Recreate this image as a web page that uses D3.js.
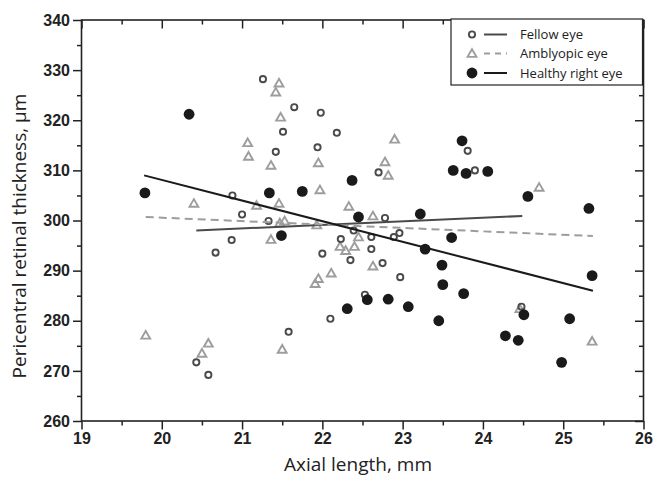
<!DOCTYPE html>
<html>
<head>
<meta charset="utf-8">
<script src="https://cdn.jsdelivr.net/npm/d3@7"></script>
<style>
  body { margin: 0; background: #fff; }
  .title { font-family: "Open Sans", "Noto Sans", sans-serif; font-size: 19px; fill: #222; }
  .leg { font-family: "Open Sans", "Noto Sans", sans-serif; font-size: 13px; fill: #222; }
</style>
</head>
<body>
<script>
// axial length (mm) / pericentral thickness (um)
const fellowX = [21.26, 21.65, 21.98, 21.51, 22.18, 21.42, 21.94, 20.88, 21.00, 21.33, 20.87, 20.67, 22.00, 22.23, 22.39, 22.35,
  22.10, 21.58, 20.43, 20.58, 22.78, 22.61, 22.61, 22.75, 22.97, 22.89, 22.96, 22.53, 23.81, 22.70, 23.90, 24.48];
const fellowY = [328.2, 322.6, 321.5, 317.7, 317.5, 313.7, 314.6, 305.0, 301.2, 299.9, 296.1, 293.6, 293.4, 296.3, 298.0, 292.1,
  280.4, 277.8, 271.7, 269.2, 300.5, 296.7, 294.3, 291.5, 288.7, 296.7, 297.5, 285.2, 313.9, 309.6, 310.0, 282.8];

const amblyX = [21.46, 21.42, 21.48, 21.07, 21.08, 21.36, 21.95, 21.97, 20.40, 21.18, 21.46, 22.33, 21.53, 21.47, 21.36, 21.93,
  22.22, 22.29, 22.40, 22.11, 21.95, 21.91, 21.50, 19.80, 20.58, 20.50, 22.63, 22.45, 22.63, 22.90, 22.78, 22.82, 24.46, 24.70, 25.36];
const amblyY = [327.4, 325.6, 320.6, 315.5, 312.8, 311.0, 311.5, 306.1, 303.4, 303.0, 303.4, 302.8, 299.9, 299.5, 296.2, 299.1,
  294.8, 294.0, 294.8, 289.5, 288.4, 287.4, 274.3, 277.1, 275.5, 273.5, 300.9, 296.7, 290.9, 316.2, 311.7, 309.0, 282.4, 306.6, 275.9];

const healthyX = [19.79, 20.34, 21.34, 21.75, 22.37, 22.45, 21.49, 23.22, 23.28, 22.31, 22.56, 22.82, 23.07, 23.45, 23.49, 23.50,
  23.76, 23.61, 23.74, 23.63, 23.79, 24.06, 24.56, 25.32, 25.36, 24.51, 24.28, 24.44, 25.08, 24.98];
const healthyY = [305.5, 321.2, 305.5, 305.8, 308.0, 300.7, 297.0, 301.3, 294.3, 282.4, 284.2, 284.3, 282.8, 280.0, 291.1, 287.2,
  285.4, 296.6, 315.9, 310.0, 309.4, 309.8, 304.8, 302.4, 289.0, 281.2, 277.0, 276.1, 280.4, 271.7];

// fitted lines, endpoints [x1, y1, x2, y2]
const fellowFit = [20.43, 298.0, 24.49, 300.9];
const amblyFit = [19.80, 300.7, 25.37, 296.9];
const healthyFit = [19.78, 309.0, 25.37, 286.0];

const xTicks = [19, 20, 21, 22, 23, 24, 25, 26];
const yTicks = [260, 270, 280, 290, 300, 310, 320, 330, 340];

const W = 654, H = 477;
const mLeft = 81.5, mRight = 643.5, mTop = 20, mBottom = 421;

const svg = d3.select("body").append("svg").attr("width", W).attr("height", H);

const x = d3.scaleLinear().domain([19, 26]).range([mLeft, mRight]);
const y = d3.scaleLinear().domain([260, 340]).range([mBottom, mTop]);

const xMinor = d3.range(19.5, 26, 1);
const yMinor = d3.range(265, 340, 10);

function axis(gen, tr, major, minor, labels) {
  const g = svg.append("g").attr("transform", tr);
  g.call(gen(major).tickSize(8.5).tickPadding(3).tickFormat(labels ? d3.format("d") : ""));
  g.append("g").call(gen(minor).tickSize(4.5).tickFormat(""));
  g.selectAll("line").attr("stroke", "#222").attr("stroke-width", 1.5);
  g.selectAll(".domain").remove();
  g.selectAll("text").attr("fill", "#222")
    .style("font-family", "'Liberation Sans', Arial, sans-serif")
    .style("font-weight", "bold").style("font-size", "16px");
  return g;
}
// bottom/left ticks point out, top/right ticks point in
axis(t => d3.axisBottom(x).tickValues(t), `translate(0,${mBottom})`, xTicks, xMinor, true);
axis(t => d3.axisBottom(x).tickValues(t), `translate(0,${mTop})`, xTicks, xMinor, false);
axis(t => d3.axisLeft(y).tickValues(t), `translate(${mLeft},0)`, yTicks, yMinor, true);
axis(t => d3.axisLeft(y).tickValues(t), `translate(${mRight},0)`, yTicks, yMinor, false);

svg.append("rect").attr("x", mLeft).attr("y", mTop).attr("width", mRight - mLeft).attr("height", mBottom - mTop)
  .attr("fill", "none").attr("stroke", "#222").attr("stroke-width", 1.6);

function fit(d, color, dash) {
  svg.append("line")
    .attr("x1", x(d[0])).attr("y1", y(d[1])).attr("x2", x(d[2])).attr("y2", y(d[3]))
    .attr("stroke", color).attr("stroke-width", 2).attr("stroke-dasharray", dash || null);
}

const triangle = d3.symbol().type(d3.symbolTriangle).size(34);

svg.append("g").selectAll("path").data(amblyX.map((v, i) => [v, amblyY[i]])).join("path")
  .attr("d", triangle).attr("transform", d => `translate(${x(d[0])},${y(d[1]) + 0.8})`)
  .attr("fill", "none").attr("stroke", "#9d9d9d").attr("stroke-width", 1.9);

svg.append("g").selectAll("circle").data(fellowX.map((v, i) => [v, fellowY[i]])).join("circle")
  .attr("cx", d => x(d[0])).attr("cy", d => y(d[1])).attr("r", 3.1)
  .attr("fill", "none").attr("stroke", "#4a4a4a").attr("stroke-width", 1.9);

fit(fellowFit, "#4a4a4a");
fit(amblyFit, "#9d9d9d", "8,5");
fit(healthyFit, "#1a1a1a");

svg.append("g").selectAll("circle").data(healthyX.map((v, i) => [v, healthyY[i]])).join("circle")
  .attr("cx", d => x(d[0])).attr("cy", d => y(d[1])).attr("r", 5.4)
  .attr("fill", "#1a1a1a");

// axis titles
svg.append("text").attr("class", "title").attr("x", 358).attr("y", 471).attr("text-anchor", "middle")
  .text("Axial length, mm");
svg.append("text").attr("class", "title").attr("transform", "translate(26,236) rotate(-90)")
  .attr("text-anchor", "middle").text("Pericentral retinal thickness, µm");

// legend
const lg = svg.append("g");
lg.append("rect").attr("x", 451).attr("y", 19).attr("width", 191.5).attr("height", 66)
  .attr("fill", "#fff").attr("stroke", "#222").attr("stroke-width", 1.2);
const legNames = ["Fellow eye", "Amblyopic eye", "Healthy right eye"];
const legY = [34.5, 53.5, 73];
legNames.forEach((name, i) => {
  const cy = legY[i];
  if (i === 0) {
    lg.append("circle").attr("cx", 472).attr("cy", cy).attr("r", 3.1)
      .attr("fill", "none").attr("stroke", "#4a4a4a").attr("stroke-width", 1.9);
    lg.append("line").attr("x1", 484).attr("x2", 507).attr("y1", cy).attr("y2", cy)
      .attr("stroke", "#4a4a4a").attr("stroke-width", 2);
  } else if (i === 1) {
    lg.append("path").attr("d", triangle).attr("transform", `translate(472,${cy + 0.8})`)
      .attr("fill", "none").attr("stroke", "#9d9d9d").attr("stroke-width", 1.9);
    lg.append("line").attr("x1", 484).attr("x2", 507).attr("y1", cy).attr("y2", cy)
      .attr("stroke", "#9d9d9d").attr("stroke-width", 2).attr("stroke-dasharray", "6,5");
  } else {
    lg.append("circle").attr("cx", 472).attr("cy", cy).attr("r", 5.4).attr("fill", "#1a1a1a");
    lg.append("line").attr("x1", 484).attr("x2", 507).attr("y1", cy).attr("y2", cy)
      .attr("stroke", "#1a1a1a").attr("stroke-width", 2);
  }
  lg.append("text").attr("class", "leg").attr("x", 520).attr("y", cy + 4.5).text(name);
});
</script>
</body>
</html>
